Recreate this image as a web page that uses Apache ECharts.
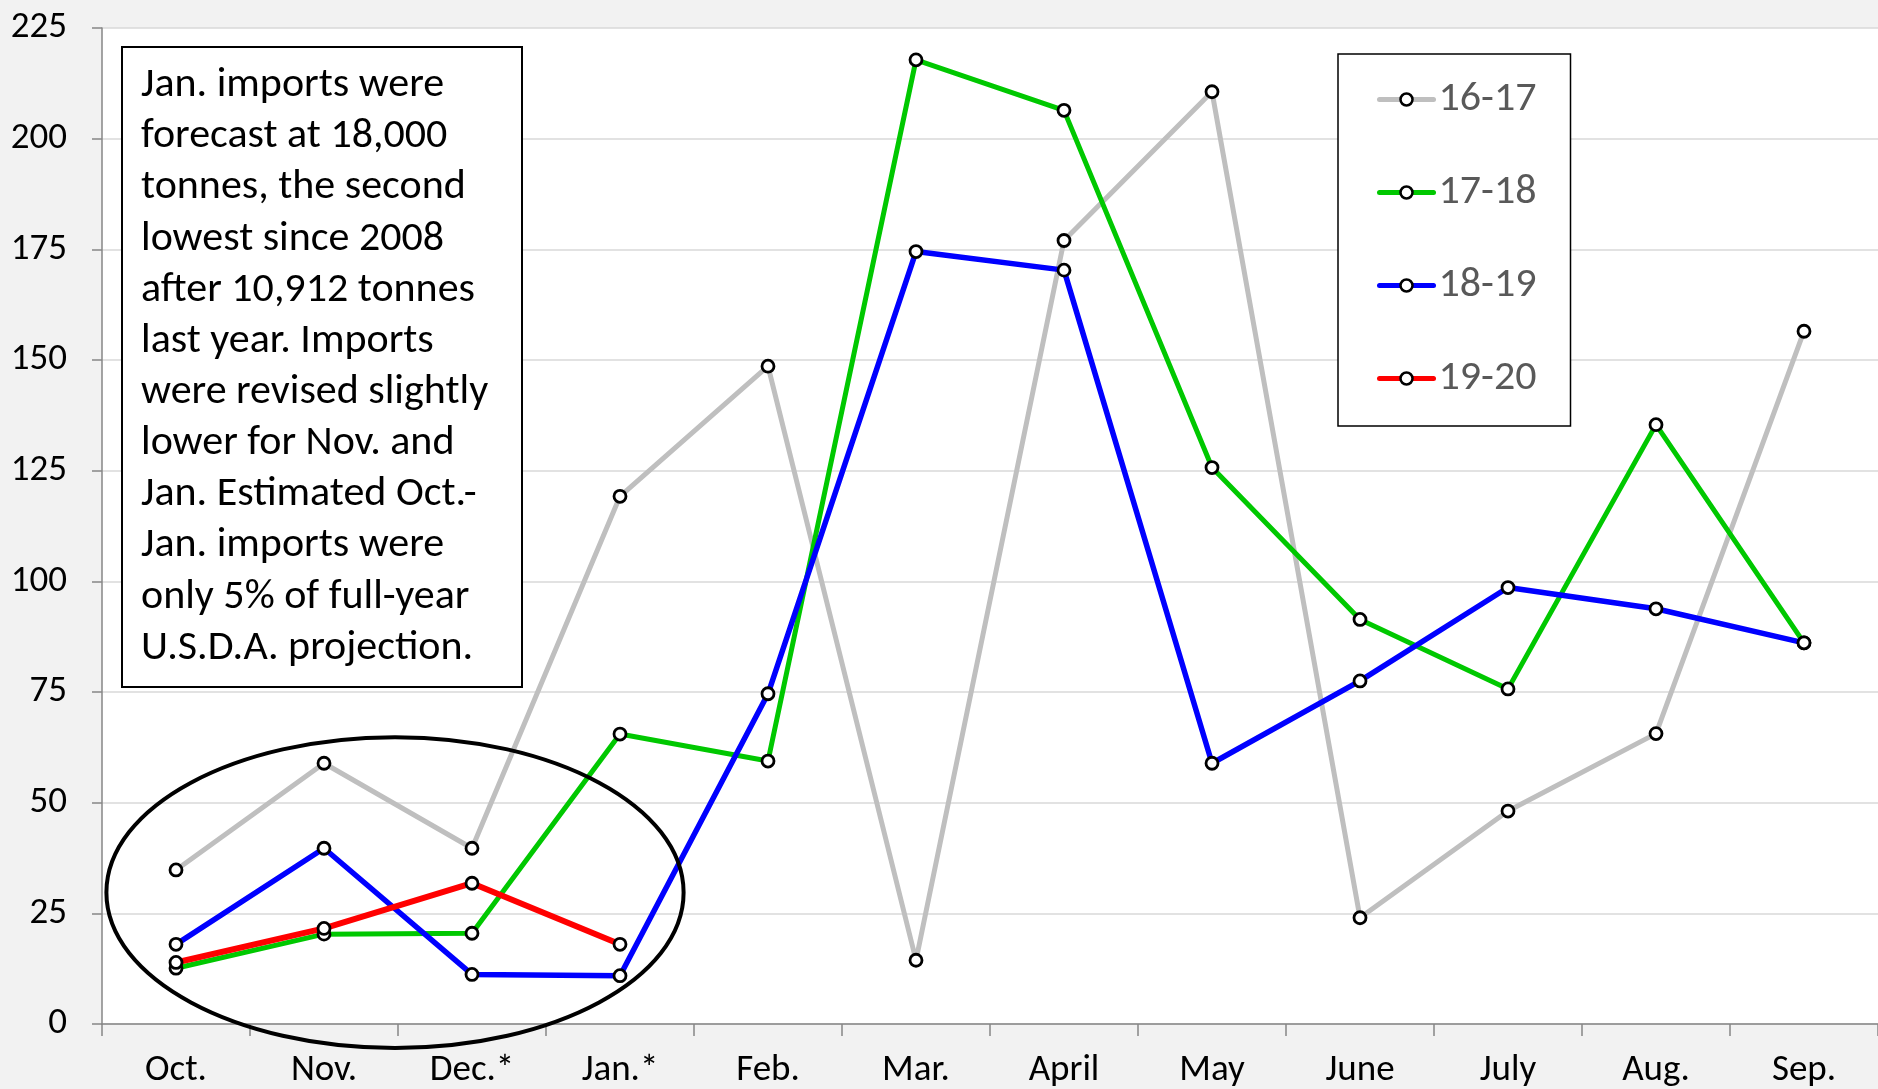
<!DOCTYPE html>
<html>
<head>
<meta charset="utf-8">
<script src="https://cdn.jsdelivr.net/npm/echarts@6/dist/echarts.min.js"></script>
<style>
  html, body { margin: 0; padding: 0; background: #f2f2f2; }
  #chart { width: 1878px; height: 1089px; }
</style>
</head>
<body>
<div id="chart"></div>
<script>
// Monthly imports, thousand tonnes, Oct.-Sep. marketing years
const months = ['Oct.', 'Nov.', 'Dec.*', 'Jan.*', 'Feb.', 'Mar.', 'April', 'May', 'June', 'July', 'Aug.', 'Sep.'];
const seasonNames = ['16-17', '17-18', '18-19', '19-20'];
const imports1617 = [34.8, 58.9, 39.7, 119.2, 148.6, 14.4, 177.0, 210.6, 24.0, 48.1, 65.6, 156.5];
const imports1718 = [12.6, 20.3, 20.5, 65.5, 59.4, 217.8, 206.4, 125.7, 91.4, 75.7, 135.4, 86.1];
const imports1819 = [18.0, 39.7, 11.2, 10.912, 74.6, 174.5, 170.3, 58.9, 77.5, 98.6, 93.8, 86.1];
const imports1920 = [13.9, 21.6, 31.8, 18.0, null, null, null, null, null, null, null, null];
const yTicks = { min: 0, max: 225, step: 25 };

const noteLines = [
  'Jan. imports were',
  'forecast at 18,000',
  'tonnes, the second',
  'lowest since 2008',
  'after 10,912 tonnes',
  'last year. Imports',
  'were revised slightly',
  'lower for Nov. and',
  'Jan. Estimated Oct.-',
  'Jan. imports were',
  'only 5% of full-year',
  'U.S.D.A. projection.'
];

const FONT = 'Carlito, Calibri, Lato, sans-serif';
const axisGray = '#868686';

function lineSeries(name, values, color, width) {
  return {
    name: name,
    type: 'line',
    data: values,
    symbol: 'circle',
    symbolSize: 12,
    showAllSymbol: true,
    connectNulls: false,
    itemStyle: { color: '#ffffff', borderColor: '#000000', borderWidth: 2.8 },
    lineStyle: { color: color, width: width, cap: 'round', join: 'round' },
    emphasis: { disabled: true },
    animation: false
  };
}

const chart = echarts.init(document.getElementById('chart'), null, { renderer: 'canvas' });

chart.setOption({
  backgroundColor: '#f2f2f2',
  animation: false,
  grid: {
    left: 102, top: 28, width: 1783, height: 997,
    show: true, backgroundColor: '#ffffff', borderWidth: 0
  },
  legend: {
    data: seasonNames,
    orient: 'vertical',
    left: 1338, top: 54,
    padding: [23, 34, 25, 39],
    itemGap: 48,
    itemWidth: 54,
    itemHeight: 15,
    backgroundColor: '#ffffff',
    borderColor: '#000000',
    borderWidth: 1.5,
    selectedMode: false,
    lineStyle: { width: 5, cap: 'round' },
    itemStyle: { color: '#ffffff', borderColor: '#000000', borderWidth: 2.5 },
    textStyle: { fontFamily: FONT, fontSize: 42, color: '#595959', lineHeight: 45 }
  },
  xAxis: {
    type: 'category',
    data: months,
    boundaryGap: true,
    axisLine: { lineStyle: { color: axisGray, width: 1.5 } },
    axisTick: { show: true, length: 12, interval: 0, lineStyle: { color: axisGray, width: 1.5 } },
    axisLabel: { interval: 0, fontFamily: FONT, fontSize: 37, color: '#000000', margin: 28 },
    splitLine: { show: false }
  },
  yAxis: {
    type: 'value',
    min: yTicks.min, max: yTicks.max, interval: yTicks.step,
    axisLine: { show: true, lineStyle: { color: axisGray, width: 1.5 } },
    axisTick: { show: true, length: 10, lineStyle: { color: axisGray, width: 1.5 } },
    axisLabel: { fontFamily: FONT, fontSize: 37, color: '#000000', margin: 35 },
    splitLine: { show: true, lineStyle: { color: '#d9d9d9', width: 1.5 } }
  },
  series: [
    lineSeries(seasonNames[0], imports1617, '#bfbfbf', 5),
    lineSeries(seasonNames[1], imports1718, '#00c800', 5),
    lineSeries(seasonNames[2], imports1819, '#0000ff', 5.5),
    lineSeries(seasonNames[3], imports1920, '#ff0000', 6)
  ]
});

// Note box and the ring around the Oct.-Jan. months, placed from the axes
const nov = chart.convertToPixel({ xAxisIndex: 0 }, 'Nov.');
const dec = chart.convertToPixel({ xAxisIndex: 0 }, 'Dec.*');
const step = dec - nov;
const yCenter = chart.convertToPixel({ yAxisIndex: 0 }, 29.7);
const yZero = chart.convertToPixel({ yAxisIndex: 0 }, 0);
const yTop = chart.convertToPixel({ yAxisIndex: 0 }, 35.1);

chart.setOption({
  graphic: [
    {
      type: 'rect',
      z: 100,
      shape: { x: 122, y: 47, width: 400, height: 640 },
      style: { fill: '#ffffff', stroke: '#000000', lineWidth: 2 }
    },
    {
      type: 'text',
      z: 101,
      x: 141, y: 60,
      style: {
        text: noteLines.join('\n'),
        font: '42px ' + FONT,
        lineHeight: 51.15,
        fill: '#000000',
        verticalAlign: 'top'
      }
    },
    {
      type: 'ellipse',
      z: 100,
      shape: { cx: (nov + dec) / 2 - 3, cy: yCenter, rx: step * 1.95, ry: yZero - yTop },
      style: { fill: null, stroke: '#000000', lineWidth: 4 }
    }
  ]
});
</script>
</body>
</html>
